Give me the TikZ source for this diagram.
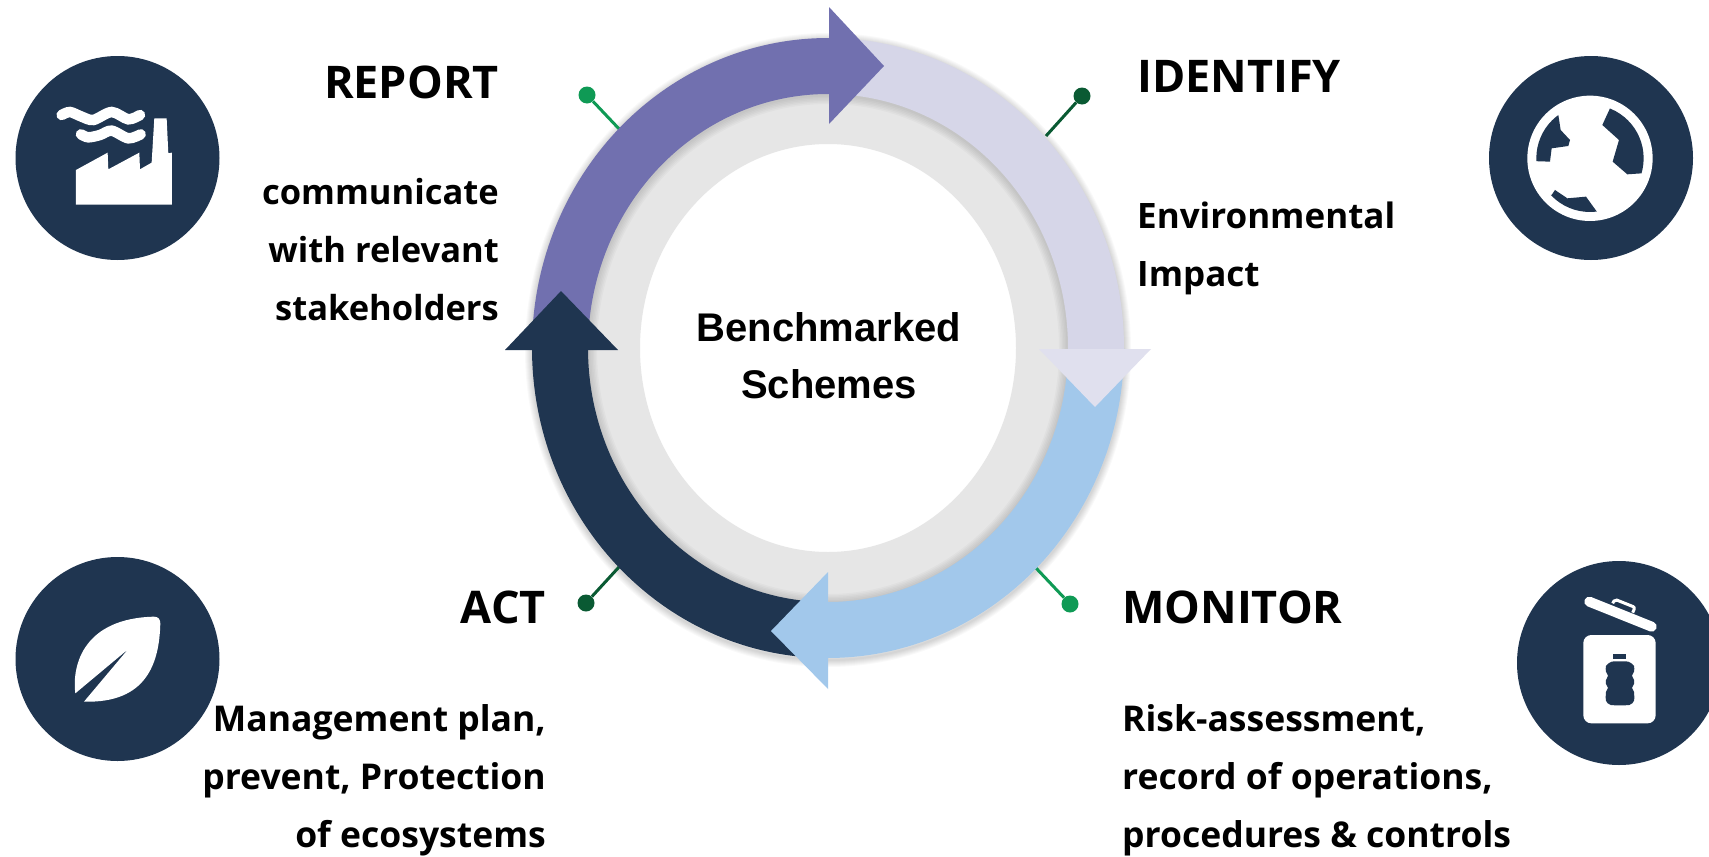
\documentclass[tikz,border=0pt]{standalone}
\usepackage{fontspec}
\setmainfont{Open Sans}
\newfontfamily\centerfont{Liberation Sans}
\usepackage{tikz}
\usetikzlibrary{arrows, positioning, calc}
\definecolor{IconNavy}{HTML}{1F3550}
\definecolor{RingPurple}{HTML}{7170AF}
\definecolor{RingLavender}{HTML}{D6D6E8}
\definecolor{HeadLavender}{HTML}{E0E0EE}
\definecolor{RingBlue}{HTML}{A2C8EB}
\definecolor{RingGrey}{HTML}{E6E6E6}
\definecolor{PinLight}{HTML}{0F9A55}
\definecolor{PinDark}{HTML}{0A5A33}
\tikzset{
	every node/.style={
		align=center,
	},
}
\tikzstyle{step-title} = [inner sep=0pt, font=\fontsize{45}{54}\selectfont\bfseries]
\tikzstyle{step-text} = [inner sep=0pt, font=\fontsize{35.5}{58}\selectfont\bfseries]
\tikzstyle{hub-text} = [inner sep=0pt, font=\centerfont\fontsize{40}{57}\selectfont\bfseries]
\tikzstyle{icon-disc} = [circle, fill=IconNavy, minimum size=204pt, inner sep=0pt]
\tikzstyle{pin-dot} = [circle, minimum size=17pt, inner sep=0pt]
\tikzstyle{pin-line} = [line width=3pt]
\tikzstyle{icon-cut} = [fill=white]
\newcommand{\ringpart}[3]{
    \fill[#3] ($(hub)+(#1:296pt and 310pt)$) arc[start angle=#1, end angle=#2, x radius=296pt, y radius=310pt]
    -- ($(hub)+(#2:240pt and 254pt)$) arc[start angle=#2, end angle=#1, x radius=240pt, y radius=254pt] -- cycle;
}
\begin{document}
\begin{tikzpicture}[x=1pt, y=-1pt]
    \clip (0,0) rectangle (1709,857);
    \fill[white] (0,0) rectangle (1709,857);
    \coordinate (hub) at (828,348);

    % soft shadow round the ring
    \foreach \w in {2,4,...,14} {
        \draw[black, opacity=0.025, line width=\w pt] ([yshift=-2pt]hub) ellipse [x radius=296pt, y radius=310pt];
    }
    \fill[RingGrey, even odd rule] (hub) ellipse [x radius=242pt, y radius=256pt] (hub) ellipse [x radius=188pt, y radius=204pt];
    \foreach \w in {3,6,...,18} {
        \draw[black, opacity=0.025, line width=\w pt] ([yshift=-1pt]hub) ellipse [x radius=240pt, y radius=254pt];
    }

    % pins
    \node (pin-report) [pin-dot, fill=PinLight] at (587,95) {};
    \node (pin-identify) [pin-dot, fill=PinDark] at (1082,96) {};
    \node (pin-act) [pin-dot, fill=PinDark] at (586,603) {};
    \node (pin-monitor) [pin-dot, fill=PinLight] at (1070,604) {};
    \coordinate (end-report) at (656,168);
    \coordinate (end-identify) at (1046,136);
    \coordinate (end-act) at (619,567);
    \coordinate (end-monitor) at (1036,568);
    \draw[pin-line, PinLight] (pin-report) -- (end-report);
    \draw[pin-line, PinDark] (pin-identify) -- (end-identify);
    \draw[pin-line, PinDark] (pin-act) -- (end-act);
    \draw[pin-line, PinLight] (pin-monitor) -- (end-monitor);

    % ring quarters and their heads
    \ringpart{-90}{-180}{IconNavy}
    \ringpart{0}{-90.5}{RingBlue}
    \ringpart{90}{-0.5}{RingLavender}
    \ringpart{180}{89.5}{RingPurple}
    \fill[RingPurple] (829,7) -- (884,66) -- (829,124) -- cycle;
    \fill[IconNavy] (505,350) -- (561,291) -- (618,350) -- cycle;
    \fill[HeadLavender] (1039,349) -- (1151,349) -- (1095,407) -- cycle;
    \fill[RingBlue] (828,572) -- (771,631) -- (828,689) -- cycle;

    \node (hub-label) [hub-text] at (829,356) {Benchmarked\\Schemes};

    % discs
    \node (disc-report) [icon-disc] at (117.5,158) {};
    \node (disc-identify) [icon-disc] at (1591,158) {};
    \node (disc-act) [icon-disc] at (117.5,659) {};
    \node (disc-monitor) [icon-disc] at (1619,663) {};

    % factory
    \begin{scope}[shift={(0,40)}, scale=0.3333]
        \fill[icon-cut] (228,390) -- (323,338) -- (325,388) -- (418,338) -- (420,388) -- (455,368) -- (463,235) -- (500,235) -- (505,340) -- (516,338) -- (516,494) -- (228,494) -- cycle;
        \draw[white, line width=10.5pt, line cap=round] plot[smooth] coordinates {(185,225) (210,216) (245,230) (280,240) (335,216) (385,238) (420,225)};
        \draw[white, line width=10.5pt, line cap=round] plot[smooth] coordinates {(243,283) (265,292) (300,285) (335,272) (385,295) (422,283)};
    \end{scope}

    % globe
    \begin{scope}[shift={(1470,40)}, scale=0.3333]
        \fill[icon-cut] (360,355) circle (188pt);
        \clip (360,355) circle (161pt);
        \fill[IconNavy] (265,225) -- (272,270) -- (300,300) -- (295,318) -- (245,325) -- (240,365) -- (150,362) -- (150,180) -- (265,180) -- cycle;
        \fill[IconNavy] (420,160) -- (420,205) -- (397,255) -- (447,300) -- (428,365) -- (472,403) -- (560,397) -- (560,160) -- cycle;
        \fill[IconNavy] (245,465) -- (255,450) -- (292,475) -- (348,470) -- (382,517) -- (382,560) -- (200,560) -- (200,465) -- cycle;
    \end{scope}

    % leaf
    \begin{scope}[shift={(0,540)}, scale=0.3333]
        \fill[icon-cut] (226,460) .. controls (215,370) and (255,235) .. (462,230) .. controls (475,230) and (481,238) .. (481,250) .. controls (478,370) and (440,490) .. (252,485) -- (384,328) -- cycle;
    \end{scope}

    % bin
    \begin{scope}[shift={(1500,560)}, scale=0.3333]
        \fill[icon-cut, rounded corners=8pt] (250,225) rectangle (467,490);
        \draw[white, line width=10pt, line cap=round] (268,125) -- (455,200);
        \draw[white, line width=3pt, rounded corners=2pt] (338,130) -- (345,118) -- (405,142) -- (398,158);
        \fill[IconNavy] (340,282) rectangle (377,298);
        \fill[IconNavy] plot[smooth cycle, tension=0.4] coordinates {(335,305) (385,305) (402,318) (402,335) (396,347) (402,360) (402,372) (396,384) (402,396) (402,422) (388,435) (332,435) (318,422) (318,396) (324,384) (318,372) (318,360) (324,347) (318,335) (318,318)};
    \end{scope}

    % labels
    \node (report) [step-title, anchor=base east] at (499,98) {REPORT};
    \node (report-text) [step-text, font=\fontsize{34.5}{58}\selectfont\bfseries, align=right, below = 152pt of report.base east, anchor=east] {communicate\\with relevant\\stakeholders};
    \node (identify) [step-title, anchor=base west] at (1137,92) {IDENTIFY};
    \node (identify-text) [step-text, font=\fontsize{35}{58}\selectfont\bfseries, align=left, below = 156pt of identify.base west, anchor=west] {Environmental\\Impact};
    \node (monitor) [step-title, anchor=base west] at (1122,623) {MONITOR};
    \node (monitor-text) [step-text, align=left, below = 157pt of monitor.base west, anchor=west] {Risk-assessment,\\record of operations,\\procedures \& controls};
    \node (act) [step-title, anchor=base east] at (546,623) {ACT};
    \node (act-text) [step-text, align=right, below = 157pt of act.base east, anchor=east] {Management plan,\\prevent, Protection\\of ecosystems};
\end{tikzpicture}
\end{document}
